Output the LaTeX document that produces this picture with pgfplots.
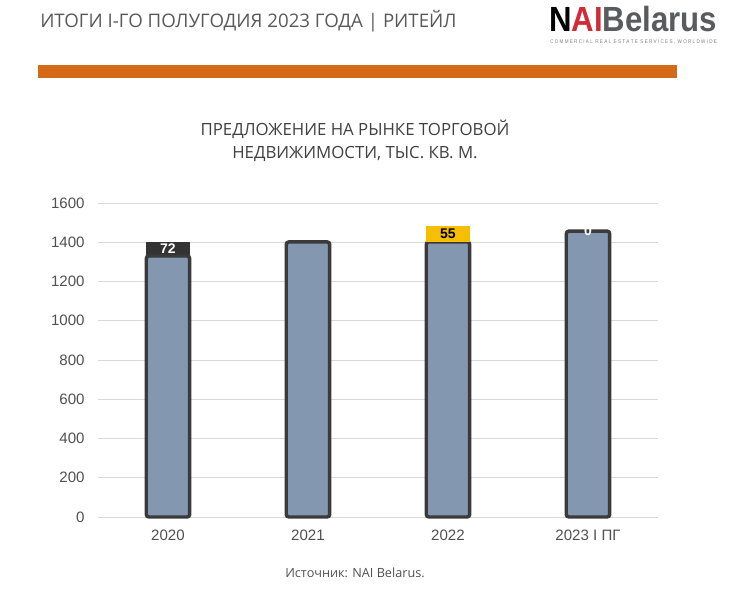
\documentclass[border=0pt]{standalone}
\usepackage{graphicx}
\usepackage{pgfplots}
\pgfplotsset{compat=1.18}
\usepackage{fontspec}
\setmainfont{Liberation Sans}
\newfontfamily\osans{Open Sans}
\definecolor{barfill}{HTML}{8497B0}
\definecolor{barline}{HTML}{3A3A3A}
\definecolor{labdark}{HTML}{333333}
\definecolor{labyel}{HTML}{F5BF00}
\definecolor{gridc}{HTML}{D9D9D9}
\definecolor{tickc}{HTML}{505050}
\definecolor{headc}{HTML}{595959}
\definecolor{logogray}{HTML}{5A5B5D}
\definecolor{titlec}{HTML}{404040}
\definecolor{orng}{HTML}{D46A17}
\definecolor{naired}{HTML}{D12B36}
\begin{document}
\begin{tikzpicture}
\begin{scope}[x=0.75pt,y=-0.75pt]
\path (0,0) rectangle (733,589);
\fill[orng] (38,65) rectangle (677,78);
\node[anchor=west, inner sep=0, text=headc, font=\osans\fontsize{14}{16}\selectfont] at (40,21) {ИТОГИ I-ГО ПОЛУГОДИЯ 2023 ГОДА | РИТЕЙЛ};
\node[anchor=west, inner sep=0] at (549,19) {\resizebox{126pt}{19pt}{\bfseries N{\color{naired}AI}\color{logogray}Belarus}};
\node[anchor=west, inner sep=0, text=logogray!80] at (550,41.5) {\resizebox{125pt}{2.8pt}{C O M M E R C I A L\ \ R E A L\ \ E S T A T E\ \ S E R V I C E S ,\ \ W O R L D W I D E}};
\node[align=center, text=titlec, font=\osans\fontsize{12.6}{17.25}\selectfont] at (355,141) {ПРЕДЛОЖЕНИЕ НА РЫНКЕ ТОРГОВОЙ\\НЕДВИЖИМОСТИ, ТЫС. КВ. М.};
\node[text=tickc, font=\osans\fontsize{9.5}{11}\selectfont] at (355,573) {Источник: NAI Belarus.};
\end{scope}
\begin{axis}[at={(73.5pt,-387.75pt)}, anchor=south west, scale only axis,
  width=420pt, height=235.5pt, xmin=-0.5, xmax=3.5, ymin=0, ymax=1600,
  ytick={0,200,...,1600}, xtick={0,1,2,3}, xticklabels={2020,2021,2022,2023 I ПГ},
  ymajorgrids, grid style={gridc, line width=0.75pt},
  axis line style={draw=none}, major tick length=0pt,
  ticklabel style={font=\fontsize{11.3}{13}\selectfont, text=tickc},
  yticklabel style={xshift=-6.5pt},
  xticklabel style={yshift=-6pt},
  /pgf/number format/assume math mode=true,
  /pgf/number format/1000 sep={},
  clip=false]
\addplot[ybar, bar width=33pt, bar shift=0pt, fill=labdark, draw=none] coordinates {(0,1402)};
\addplot[ybar, bar width=33pt, bar shift=0pt, fill=labyel, draw=none] coordinates {(2,1457)};
\addplot[ybar, bar width=32.6pt, bar shift=0pt, fill=barfill, draw=barline, line width=2.6pt, rounded corners=2pt] coordinates {(0,1330) (1,1402) (2,1402) (3,1457)};
\addplot[only marks, mark=none, point meta=explicit symbolic, nodes near coords,
  nodes near coords style={anchor=center, text=white, font=\bfseries\fontsize{10.5}{12}\selectfont, inner sep=1pt}] coordinates {(0,1366) [72]};
\addplot[only marks, mark=none, point meta=explicit symbolic, nodes near coords,
  nodes near coords style={anchor=center, text=black, fill=labyel, minimum width=33pt, minimum height=12pt, font=\bfseries\fontsize{10.5}{12}\selectfont, inner sep=1pt}] coordinates {(2,1442) [55]};
\addplot[only marks, mark=none, point meta=explicit symbolic, nodes near coords,
  nodes near coords style={anchor=center, text=white, font=\bfseries\fontsize{10.5}{12}\selectfont, inner sep=1pt}] coordinates {(3,1460) [0]};
\end{axis}
\end{tikzpicture}
\end{document}
